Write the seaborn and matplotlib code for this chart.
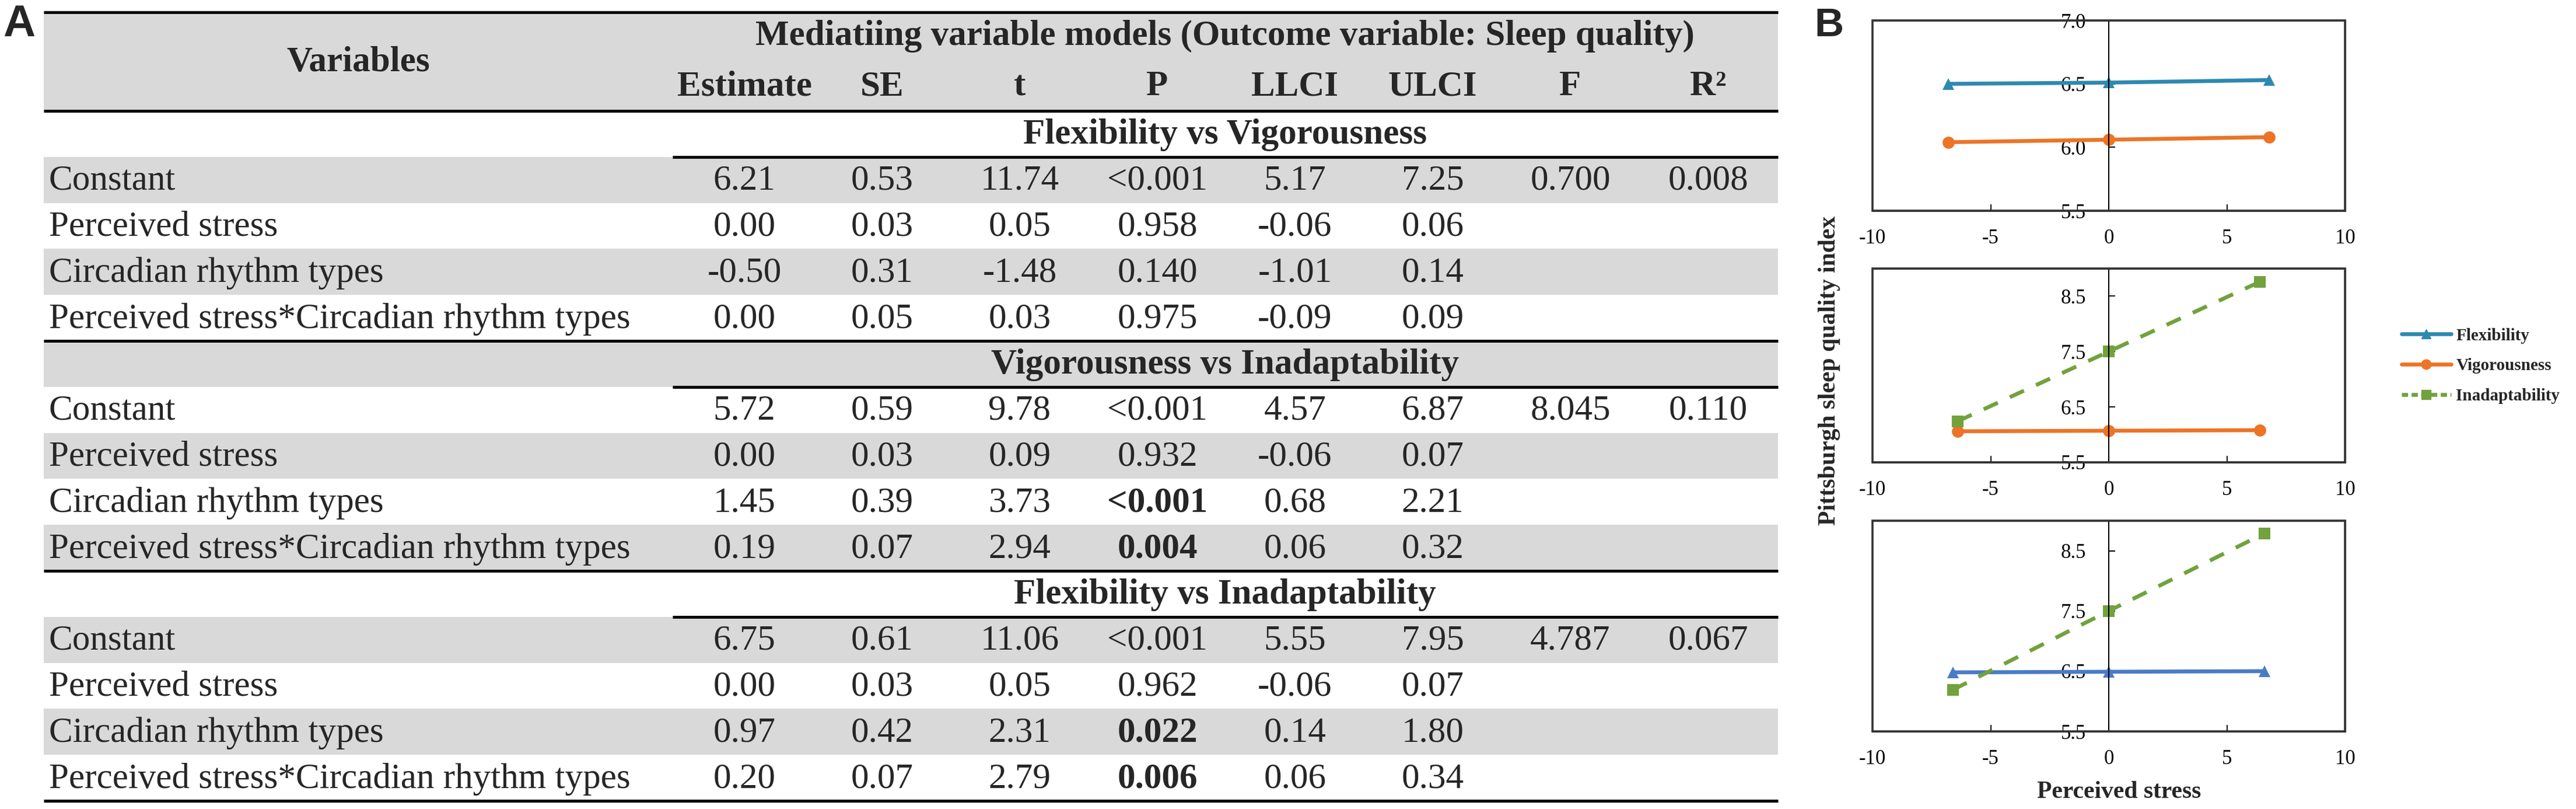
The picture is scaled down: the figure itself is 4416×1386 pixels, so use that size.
import matplotlib
matplotlib.use('Agg')
import pandas as pd
import matplotlib.pyplot as plt
from matplotlib.lines import Line2D
import seaborn as sns

# ── Panel A: moderation table values ─────────────────────────────────────────
col_names = ['Estimate', 'SE', 't', 'P', 'LLCI', 'ULCI', 'F', 'R²']
row_names = ['Constant', 'Perceived stress', 'Circadian rhythm types',
             'Perceived stress*Circadian rhythm types']
model_names = ['Flexibility vs Vigorousness', 'Vigorousness vs Inadaptability',
               'Flexibility vs Inadaptability']

flex_vig = [['6.21', '0.53', '11.74', '<0.001', '5.17', '7.25', '0.700', '0.008'],
            ['0.00', '0.03', '0.05', '0.958', '-0.06', '0.06', '', ''],
            ['-0.50', '0.31', '-1.48', '0.140', '-1.01', '0.14', '', ''],
            ['0.00', '0.05', '0.03', '0.975', '-0.09', '0.09', '', '']]
vig_inad = [['5.72', '0.59', '9.78', '<0.001', '4.57', '6.87', '8.045', '0.110'],
            ['0.00', '0.03', '0.09', '0.932', '-0.06', '0.07', '', ''],
            ['1.45', '0.39', '3.73', '<0.001', '0.68', '2.21', '', ''],
            ['0.19', '0.07', '2.94', '0.004', '0.06', '0.32', '', '']]
flex_inad = [['6.75', '0.61', '11.06', '<0.001', '5.55', '7.95', '4.787', '0.067'],
             ['0.00', '0.03', '0.05', '0.962', '-0.06', '0.07', '', ''],
             ['0.97', '0.42', '2.31', '0.022', '0.14', '1.80', '', ''],
             ['0.20', '0.07', '2.79', '0.006', '0.06', '0.34', '', '']]
model_tables = [flex_vig, vig_inad, flex_inad]
# significant P values shown in bold: (model, row)
bold_cells = [(1, 2), (1, 3), (2, 2), (2, 3)]

# ── Panel B: simple slopes (Pittsburgh sleep quality index) ──────────────────
stress_top = [-6.8, 0.0, 6.8]
flex_top = [6.50, 6.51, 6.53]
vig_top = [6.04, 6.06, 6.08]

stress_mid = [-6.4, 0.0, 6.4]
vig_mid = [6.06, 6.07, 6.08]
inad_mid = [6.24, 7.50, 8.76]

stress_bot = [-6.6, 0.0, 6.6]
flex_bot = [6.48, 6.49, 6.50]
inad_bot = [6.19, 7.50, 8.79]

# ── Style ────────────────────────────────────────────────────────────────────
sns.set_style('white')
plt.rcParams['font.family'] = ['Liberation Serif', 'DejaVu Serif']
plt.rcParams['axes.unicode_minus'] = False

W, H = 4416, 1386
fig = plt.figure(figsize=(W / 100, H / 100), dpi=100)

# ── Panel A table, drawn in pixel coordinates ────────────────────────────────
ax_t = fig.add_axes([0, 0, 1, 1], zorder=0)
ax_t.set_xlim(0, W)
ax_t.set_ylim(H, 0)
ax_t.axis('off')

X0, X1 = 75, 3048
head_top, head_bot, table_bot = 21, 190, 1372
n_rows = 5 * len(model_names)
row_h = (table_bot - head_bot) / n_rows
gray = '#D9D9D9'
fs = 44

row_mid = [head_bot + (i + 0.5) * row_h for i in range(n_rows)]
row_col = [gray if i % 2 else 'white' for i in range(n_rows)]
ax_t.barh(row_mid, X1 - X0, left=X0, height=row_h, color=row_col, linewidth=0)
ax_t.barh([(head_top + head_bot) / 2], X1 - X0, left=X0,
          height=head_bot - head_top, color=gray, linewidth=0)

block_ends = [head_bot + 5 * row_h * (k + 1) for k in range(len(model_names))]
ax_t.hlines([head_top, head_bot] + block_ends, X0, X1, color='black', lw=3.6)
ax_t.hlines([head_bot + 5 * row_h * k + row_h for k in range(len(model_names))],
            1153, X1, color='black', lw=3.6)

col_x = [1276 + 236 * j for j in range(len(col_names))]
ax_t.text(614, 122, 'Variables', ha='center', va='baseline', fontsize=fs,
          fontweight='bold')
ax_t.text(2100, 77, 'Mediatiing variable models (Outcome variable: Sleep quality)',
          ha='center', va='baseline', fontsize=fs, fontweight='bold')
for j, name in enumerate(col_names):
    ax_t.text(col_x[j], 163, name, ha='center', va='baseline', fontsize=fs,
              fontweight='bold')

for k, (model, values) in enumerate(zip(model_names, model_tables)):
    base = 5 * k
    ax_t.text(2100, row_mid[base] + 2, model, ha='center', va='center',
              fontsize=fs, fontweight='bold')
    for r, (label, vals) in enumerate(zip(row_names, values)):
        y = row_mid[base + 1 + r] + 2
        ax_t.text(84, y, label, ha='left', va='center', fontsize=fs)
        for j, v in enumerate(vals):
            weight = 'bold' if (j == 3 and (k, r) in bold_cells) else 'normal'
            ax_t.text(col_x[j], y, v, ha='center', va='center', fontsize=fs,
                      fontweight=weight)

# ── Panel B line charts ──────────────────────────────────────────────────────
teal, blue, orange, green = '#2E89B0', '#4A7CC6', '#ED7426', '#71A23D'
markers = {'Flexibility': '^', 'Vigorousness': 'o', 'Inadaptability': 's'}
dashes = {'Flexibility': '', 'Vigorousness': '', 'Inadaptability': (4.0, 3.4)}
lw = 4.8

def long_form(x, series):
    frames = [pd.DataFrame({'stress': x, 'psqi': y, 'type': name})
              for name, y in series]
    return pd.concat(frames, ignore_index=True)

panels = [
    (long_form(stress_top, [('Flexibility', flex_top), ('Vigorousness', vig_top)]),
     {'Flexibility': teal, 'Vigorousness': orange}, (5.5, 7.0), [5.5, 6.0, 6.5, 7.0],
     (35, 361)),
    (long_form(stress_mid, [('Vigorousness', vig_mid), ('Inadaptability', inad_mid)]),
     {'Vigorousness': orange, 'Inadaptability': green}, (5.5, 9.0), [5.5, 6.5, 7.5, 8.5],
     (460, 792)),
    (long_form(stress_bot, [('Flexibility', flex_bot), ('Inadaptability', inad_bot)]),
     {'Flexibility': blue, 'Inadaptability': green}, (5.5, 9.0), [5.5, 6.5, 7.5, 8.5],
     (892, 1253)),
]

ax_left, ax_right = 3210, 4020
for df, pal, ylim, yticks, (top, bot) in panels:
    ax = fig.add_axes([ax_left / W, 1 - bot / H, (ax_right - ax_left) / W,
                       (bot - top) / H], zorder=2)
    names = list(pal.keys())
    sns.lineplot(data=df, x='stress', y='psqi', hue='type', style='type',
                 hue_order=names, style_order=names, palette=pal,
                 markers={n: markers[n] for n in names},
                 dashes={n: dashes[n] for n in names},
                 linewidth=lw, markersize=15, markeredgewidth=0,
                 legend=False, ax=ax)
    ax.set_xlim(-10, 10)
    ax.set_ylim(*ylim)
    ax.set_xticks([-10, -5, 0, 5, 10])
    ax.set_xticklabels(['-10', '-5', '0', '5', '10'])
    ax.set_yticks(yticks)
    ax.set_yticklabels([f'{v:.1f}' for v in yticks])
    ax.set_xlabel('')
    ax.set_ylabel('')
    ax.spines['left'].set_position(('data', 0))
    for side in ['top', 'right', 'bottom']:
        ax.spines[side].set_linewidth(1.8)
        ax.spines[side].set_color('black')
    ax.spines['left'].set_linewidth(1.5)
    ax.spines['left'].set_color('black')
    ax.add_patch(plt.Rectangle((0, 0), 1, 1, transform=ax.transAxes, fill=False,
                               edgecolor='#333333', linewidth=2.6, clip_on=False,
                               zorder=3))
    ax.tick_params(axis='x', direction='in', length=8, width=1.5, labelsize=25,
                   pad=22, bottom=True, colors='black')
    ax.tick_params(axis='y', direction='in', length=8, width=1.5, labelsize=25,
                   pad=28, left=True, colors='black')
    ax.set_facecolor('white')

fig.text(3136 / W, 1 - 635 / H, 'Pittsburgh sleep quality index', rotation=90,
         ha='center', va='center', fontsize=30, fontweight='bold')
fig.text(3633 / W, 1 - 1357 / H, 'Perceived stress', ha='center', va='center',
         fontsize=30, fontweight='bold')

handles = [Line2D([], [], color=teal, marker='^', lw=lw, markersize=12),
           Line2D([], [], color=orange, marker='o', lw=lw, markersize=12),
           Line2D([], [], color=green, marker='s', lw=lw, markersize=12,
                  dashes=(1.6, 0.9))]
fig.legend(handles, ['Flexibility', 'Vigorousness', 'Inadaptability'],
           loc='center left', bbox_to_anchor=(4117 / W, 1 - 627 / H),
           frameon=False, borderaxespad=0, borderpad=0, handlelength=2.9,
           handletextpad=0.3, labelspacing=0.85,
           prop={'family': 'Liberation Serif', 'weight': 'bold', 'size': 21})

# panel letters
fig.text(5 / W, 1 - 62 / H, 'A', ha='left', va='baseline', fontsize=55,
         fontweight='bold', family='Liberation Sans')
fig.text(3110 / W, 1 - 62 / H, 'B', ha='left', va='baseline', fontsize=50,
         fontweight='bold', family='Liberation Sans')

fig.savefig('out.png', dpi=100, facecolor='white')
